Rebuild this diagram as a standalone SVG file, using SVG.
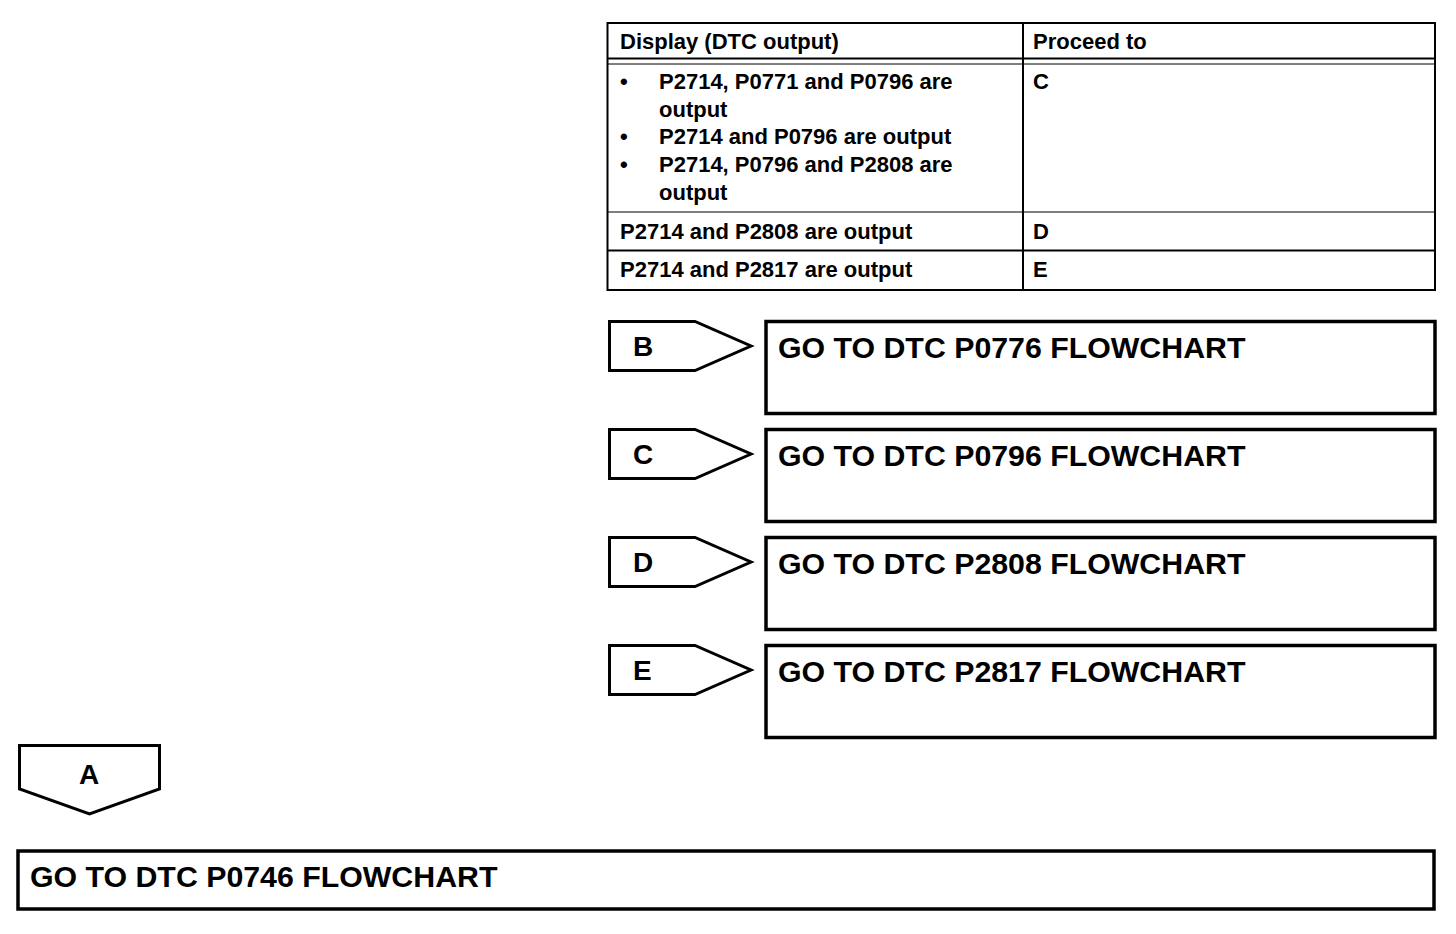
<svg xmlns="http://www.w3.org/2000/svg" width="1456" height="934" viewBox="0 0 1456 934">
<style>
.bg{fill:#fff}
.ln{stroke:#000;fill:none}
.box{fill:#fff;stroke:#000;stroke-width:3.5}
.pent{fill:#fff;stroke:#000;stroke-width:3;stroke-linejoin:miter}
.tt{font-family:"Liberation Sans",Arial,sans-serif;font-weight:bold;font-size:22px;fill:#000}
.bt{font-family:"Liberation Sans",Arial,sans-serif;font-weight:bold;font-size:30.3px;fill:#000}
.lt{font-family:"Liberation Sans",Arial,sans-serif;font-weight:bold;font-size:28px;fill:#000}
</style>
<rect class="bg" x="0" y="0" width="1456" height="934"/>

<g id="table">
  <rect class="ln" x="607.5" y="23" width="827.5" height="267" stroke-width="2"/>
  <line class="ln" x1="607.5" y1="58.5" x2="1435" y2="58.5" stroke-width="2"/>
  <line class="ln" x1="607.5" y1="64" x2="1435" y2="64" stroke-width="1"/>
  <line class="ln" x1="607.5" y1="212" x2="1435" y2="212" stroke-width="1.2"/>
  <line class="ln" x1="607.5" y1="250.5" x2="1435" y2="250.5" stroke-width="2"/>
  <line class="ln" x1="1023" y1="23" x2="1023" y2="290" stroke-width="2"/>
  <text class="tt" x="620" y="49">Display (DTC output)</text>
  <text class="tt" x="1033" y="49">Proceed to</text>
  <text class="tt" x="620" y="89">•</text>
  <text class="tt" x="659" y="89">P2714, P0771 and P0796 are</text>
  <text class="tt" x="659" y="116.7">output</text>
  <text class="tt" x="620" y="144.4">•</text>
  <text class="tt" x="659" y="144.4">P2714 and P0796 are output</text>
  <text class="tt" x="620" y="172">•</text>
  <text class="tt" x="659" y="172">P2714, P0796 and P2808 are</text>
  <text class="tt" x="659" y="199.8">output</text>
  <text class="tt" x="1033" y="89">C</text>
  <text class="tt" x="620" y="239">P2714 and P2808 are output</text>
  <text class="tt" x="1033" y="239">D</text>
  <text class="tt" x="620" y="277">P2714 and P2817 are output</text>
  <text class="tt" x="1033" y="277">E</text>
</g>

<g id="connector-B">
  <polygon class="pent" points="609.5,321.5 695,321.5 751,346 695,370.5 609.5,370.5"/>
  <text class="lt" x="633" y="356">B</text>
</g>
<g id="node-B">
  <rect class="box" x="766" y="321.5" width="669" height="92"/>
  <text class="bt" x="778" y="358">GO TO DTC P0776 FLOWCHART</text>
</g>

<g id="connector-C">
  <polygon class="pent" points="609.5,429.5 695,429.5 751,454 695,478.5 609.5,478.5"/>
  <text class="lt" x="633" y="464">C</text>
</g>
<g id="node-C">
  <rect class="box" x="766" y="429.5" width="669" height="92"/>
  <text class="bt" x="778" y="466">GO TO DTC P0796 FLOWCHART</text>
</g>

<g id="connector-D">
  <polygon class="pent" points="609.5,537.5 695,537.5 751,562 695,586.5 609.5,586.5"/>
  <text class="lt" x="633" y="572">D</text>
</g>
<g id="node-D">
  <rect class="box" x="766" y="537.5" width="669" height="92"/>
  <text class="bt" x="778" y="574">GO TO DTC P2808 FLOWCHART</text>
</g>

<g id="connector-E">
  <polygon class="pent" points="609.5,645.5 695,645.5 751,670 695,694.5 609.5,694.5"/>
  <text class="lt" x="633" y="680">E</text>
</g>
<g id="node-E">
  <rect class="box" x="766" y="645.5" width="669" height="92"/>
  <text class="bt" x="778" y="682">GO TO DTC P2817 FLOWCHART</text>
</g>

<g id="connector-A">
  <polygon class="pent" points="19.5,745.5 159.5,745.5 159.5,789 89.5,814 19.5,789"/>
  <text class="lt" x="89" y="784" text-anchor="middle">A</text>
</g>
<g id="node-A">
  <rect class="box" x="18" y="851" width="1416" height="58"/>
  <text class="bt" x="30" y="887">GO TO DTC P0746 FLOWCHART</text>
</g>
</svg>
